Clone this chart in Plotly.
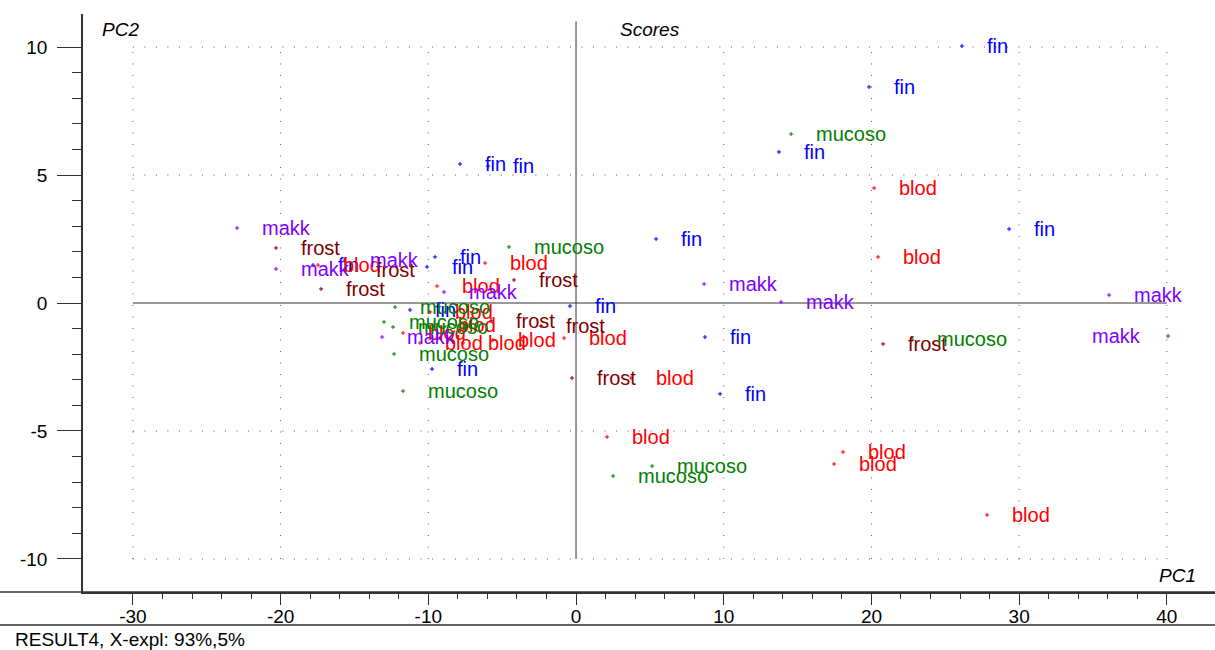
import plotly.graph_objects as go

# ---- data (PC1, PC2 scores) ----
fin_x = [26.13, 19.84, 13.74, 29.32, 5.42, 8.73, 9.75, -0.41, -7.85, -5.96, -17.81, -11.24, -9.75, -9.55, -10.09]
fin_y = [10.04, 8.44, 5.90, 2.89, 2.50, -1.33, -3.55, -0.12, 5.43, 5.35, 1.48, -0.27, -2.58, 1.80, 1.41]

blod_x = [20.18, 20.45, 3.72, 2.10, 18.08, 17.47, 27.83, -0.81, -17.47, -9.88, -9.68, -11.71, -10.56, -7.65, -5.62, -6.16, -9.41]
blod_y = [4.49, 1.80, -2.93, -5.23, -5.82, -6.29, -8.28, -1.37, 1.48, -0.35, -0.86, -1.17, -1.56, -1.56, -1.45, 1.56, 0.66]

frost_x = [20.79, -0.27, -20.31, -17.26, -15.23, -5.75, -2.37, -4.20]
frost_y = [-1.60, -2.93, 2.15, 0.55, 1.29, -0.70, -0.90, 0.90]

mucoso_x = [14.56, 22.75, 5.15, 2.51, -12.25, -13.00, -12.39, -12.32, -11.71, -4.54]
mucoso_y = [6.60, -1.41, -6.37, -6.76, -0.16, -0.74, -0.94, -1.99, -3.44, 2.19]

makk_x = [-22.95, -20.31, -15.64, -8.94, 8.67, 13.88, 36.09, 40.08, -13.13]
makk_y = [2.93, 1.33, 1.68, 0.43, 0.74, 0.04, 0.31, -1.29, -1.33]

groups = [
    ("fin", fin_x, fin_y, "#0000FF"),
    ("blod", blod_x, blod_y, "#FF0000"),
    ("frost", frost_x, frost_y, "#800000"),
    ("mucoso", mucoso_x, mucoso_y, "#008000"),
    ("makk", makk_x, makk_y, "#8000FF"),
]

x_ticks = [-30, -20, -10, 0, 10, 20, 30, 40]
y_ticks = [-10, -5, 0, 5, 10]

FONT = "Liberation Sans, Arial, sans-serif"
LABEL_SIZE = 20

fig = go.Figure()
annotations = []
for name, xs, ys, color in groups:
    fig.add_trace(go.Scatter(
        x=xs, y=ys, mode="markers", name=name, showlegend=False,
        marker=dict(symbol="cross-thin", size=3, line=dict(color=color, width=1), color=color),
    ))
    for xv, yv in zip(xs, ys):
        right_edge = xv > 38
        annotations.append(dict(
            x=xv, y=yv, xref="x", yref="y", text=name, showarrow=False,
            xanchor="right" if right_edge else "left", yanchor="middle",
            xshift=-25 if right_edge else 23, yshift=0,
            font=dict(family=FONT, size=LABEL_SIZE, color=color),
        ))

# grid: dotted lines only inside [-30,40] x [-10,10]
shapes = []
grid_style = dict(color="#555555", width=1, dash="1px,10.5px")
for gy in y_ticks:
    if gy == 0:
        continue
    shapes.append(dict(type="line", xref="x", yref="y", x0=x_ticks[0], x1=x_ticks[-1], y0=gy, y1=gy,
                       line=grid_style, layer="below"))
for gx in x_ticks:
    if gx == 0:
        continue
    shapes.append(dict(type="line", xref="x", yref="y", x0=gx, x1=gx, y0=y_ticks[0], y1=y_ticks[-1],
                       line=grid_style, layer="below"))
# solid zero lines
shapes.append(dict(type="line", xref="x", yref="y", x0=x_ticks[0], x1=x_ticks[-1], y0=0, y1=0,
                   line=dict(color="#333333", width=1), layer="below"))
shapes.append(dict(type="line", xref="x", yref="y", x0=0, x1=0, y0=y_ticks[0], y1=11,
                   line=dict(color="#333333", width=1), layer="below"))
# extended bottom axis line and separator line
shapes.append(dict(type="line", xref="paper", yref="paper", x0=-0.08, x1=1, y0=0, y1=0,
                   line=dict(color="#333333", width=1.5)))
shapes.append(dict(type="line", xref="paper", yref="paper", x0=-0.08, x1=1, y0=-0.0571, y1=-0.0571,
                   line=dict(color="#333333", width=1.5)))

text_font = dict(family=FONT, size=19, color="black")
annotations += [
    dict(x=0.015, y=0.974, xref="paper", yref="paper", text="<i>PC2</i>", showarrow=False,
         xanchor="left", yanchor="middle", font=text_font),
    dict(x=0.501, y=0.974, xref="paper", yref="paper", text="<i>Scores</i>", showarrow=False,
         xanchor="center", yanchor="middle", font=text_font),
    dict(x=0.985, y=0.028, xref="paper", yref="paper", text="<i>PC1</i>", showarrow=False,
         xanchor="right", yanchor="middle", font=text_font),
    dict(x=-0.062, y=-0.083, xref="paper", yref="paper", text="RESULT4, X-expl: 93%,5%", showarrow=False,
         xanchor="left", yanchor="middle", font=text_font),
]

fig.update_layout(
    width=1215, height=650,
    margin=dict(l=83, r=0, t=14, b=58),
    paper_bgcolor="white", plot_bgcolor="white",
    shapes=shapes, annotations=annotations,
    font=dict(family=FONT, size=19, color="black"),
)
fig.update_xaxes(
    range=[-33.38, 43.26], showgrid=False, zeroline=False,
    showline=True, linecolor="#333333", linewidth=1.5,
    tickmode="array", tickvals=x_ticks, ticktext=[str(v) for v in x_ticks],
    ticks="outside", ticklen=11, tickwidth=1, tickcolor="#333333",
    minor=dict(ticks="outside", ticklen=5, tickmode="array",
               tickvals=list(range(x_ticks[0], x_ticks[-1] + 1, 2)),
               tickcolor="#333333", showgrid=False),
    tickfont=dict(family=FONT, size=19, color="black"),
    ticklabelstandoff=-5,
)
fig.update_yaxes(
    range=[-11.29, 11.29], showgrid=False, zeroline=False,
    showline=True, linecolor="#333333", linewidth=1.5,
    tickmode="array", tickvals=y_ticks, ticktext=[str(v) for v in y_ticks],
    ticks="outside", ticklen=24, tickwidth=1, tickcolor="#333333",
    minor=dict(ticks="outside", ticklen=9, tickmode="array",
               tickvals=list(range(y_ticks[0], y_ticks[-1] + 1, 1)),
               tickcolor="#333333", showgrid=False),
    tickfont=dict(family=FONT, size=19, color="black"),
    ticklabelstandoff=6,
)

fig.write_html(
    "out.html",
    config={"displayModeBar": False},
    post_script="document.body.style.margin='0';document.body.style.overflow='hidden';",
)
